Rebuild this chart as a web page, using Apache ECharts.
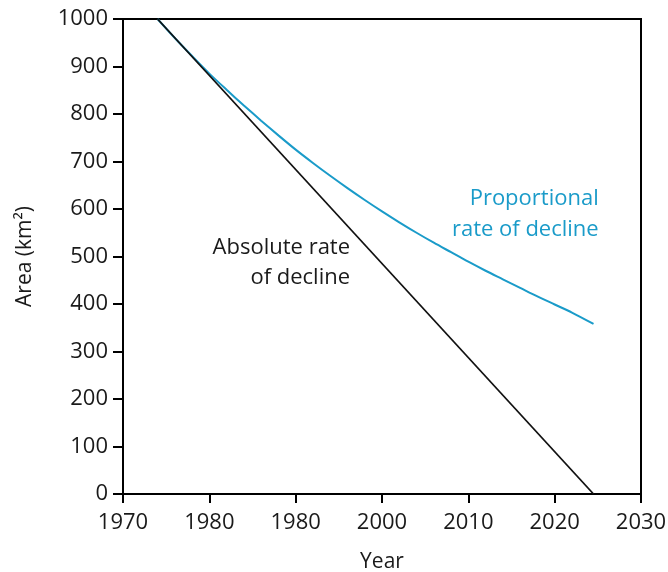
<!DOCTYPE html>
<html><head><meta charset="utf-8">
<script src="https://cdn.jsdelivr.net/npm/echarts@6/dist/echarts.min.js"></script>
<style>html,body{margin:0;padding:0;background:#fff}#c{width:668px;height:572px}</style>
</head><body><div id="c"></div>
<script>
var xTickLabels = ['1970','1980','1980','2000','2010','2020','2030'];
var absoluteYears = [1974, 2024.5];
var absoluteArea = [1000, 0];
var propYears = [1974,1976,1978,1980,1982,1984,1986,1988,1990,1992,1994,1996,1998,2000,2002,2004,2006,2008,2010,2012,2014,2016,2018,2020,2022,2024.5];
var propArea  = [1000,960,922,885,851,818,786,755,725,697,670,644,619,595,572,550,529,509,489,470,452,434,416,399,382,358];

function pairs(xs, ys){ return xs.map(function(x,i){return [x, ys[i]];}); }
var FONT = '"Open Sans", sans-serif';
var TXT = '#1a1a1a';
var chart = echarts.init(document.getElementById('c'));
chart.setOption({
  animation:false,
  grid:{left:123,right:27,top:19,bottom:78,containLabel:false,outerBoundsMode:'none',show:true,borderColor:'#000',borderWidth:2,backgroundColor:'transparent'},
  xAxis:{type:'value',min:1970,max:2030,interval:10,
    name:'Year',nameLocation:'middle',nameGap:58,
    nameTextStyle:{fontFamily:FONT,fontSize:21,color:TXT},
    axisLine:{show:true,lineStyle:{color:'#000',width:2}},
    axisTick:{show:true,length:9,lineStyle:{color:'#000',width:2}},
    splitLine:{show:false},
    axisLabel:{margin:18,fontFamily:FONT,fontSize:22,color:TXT,
      formatter:function(v){var i=Math.round((v-1970)/10);return xTickLabels[i]||'';}}
  },
  yAxis:{type:'value',min:0,max:1000,interval:100,
    name:'Area (km²)',nameLocation:'middle',nameGap:87,
    nameTextStyle:{fontFamily:FONT,fontSize:21,color:TXT},
    axisLine:{show:true,lineStyle:{color:'#000',width:2}},
    axisTick:{show:true,length:10,lineStyle:{color:'#000',width:2}},
    splitLine:{show:false},
    axisLabel:{margin:15,fontFamily:FONT,fontSize:22,color:TXT,formatter:function(v){return String(v);}}
  },
  series:[
    {type:'line',data:pairs(propYears,propArea),smooth:0.3,showSymbol:false,
     lineStyle:{color:'#1a9bc9',width:2},z:2,
     markPoint:{symbol:'circle',symbolSize:0,silent:true,
       data:[{coord:[2025.1,588],label:{show:true,formatter:'Proportional\nrate of decline',position:[0,0],align:'right',verticalAlign:'middle',
         fontFamily:FONT,fontSize:22,lineHeight:31,color:'#1a9bc9'}}]}},
    {type:'line',data:pairs(absoluteYears,absoluteArea),showSymbol:false,
     lineStyle:{color:'#111',width:1.8},z:3,
     markPoint:{symbol:'circle',symbolSize:0,silent:true,
       data:[{coord:[1996.3,486],label:{show:true,formatter:'Absolute rate\nof decline',position:[0,0],align:'right',verticalAlign:'middle',
         fontFamily:FONT,fontSize:22,lineHeight:30,color:TXT}}]}}
  ]
});
</script></body></html>
